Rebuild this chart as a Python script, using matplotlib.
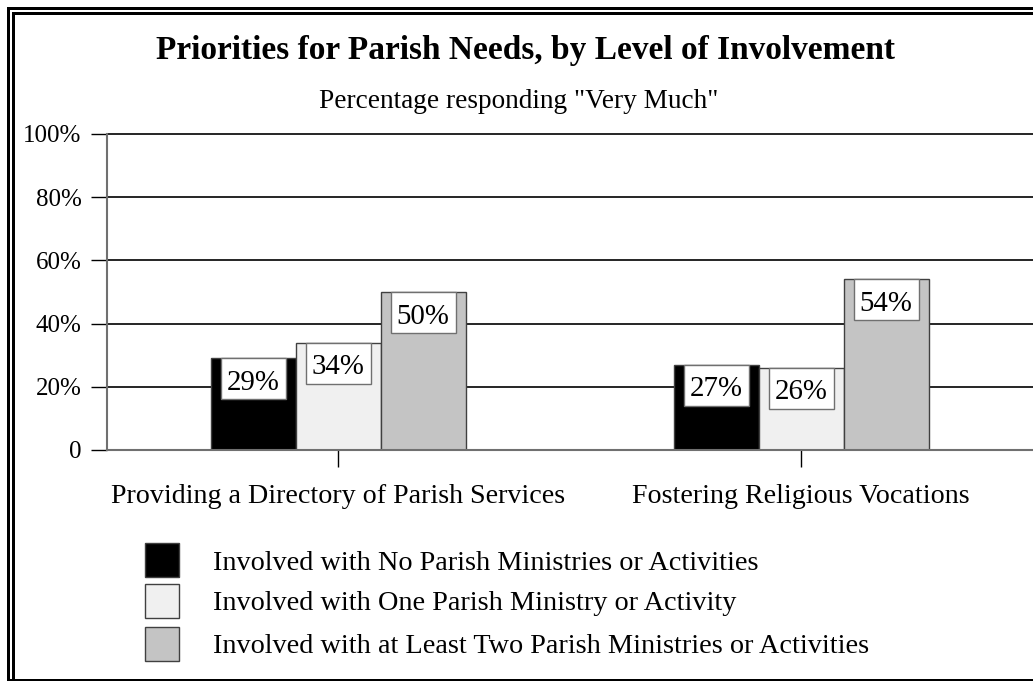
import matplotlib
matplotlib.use("Agg")
import matplotlib.pyplot as plt
from matplotlib.patches import Rectangle
from matplotlib.lines import Line2D
import numpy as np

categories = ["Providing a Directory of Parish Services", "Fostering Religious Vocations"]
series_names = [
    "Involved with No Parish Ministries or Activities",
    "Involved with One Parish Ministry or Activity",
    "Involved with at Least Two Parish Ministries or Activities",
]
no_ministry = [29, 27]
one_ministry = [34, 26]
two_plus = [50, 54]
ytick_vals = [0, 20, 40, 60, 80, 100]
ytick_labels = ["0", "20%", "40%", "60%", "80%", "100%"]

colors = ["#000000", "#f0f0f0", "#c4c4c4"]
edge = "#404040"

plt.rcParams['font.family'] = ['Liberation Serif', 'DejaVu Serif']

W, H = 1033, 681
fig = plt.figure(figsize=(W / 100, H / 100), dpi=100)

def fx(px):
    return px / W

def fy(py):
    return 1 - py / H

ax = fig.add_axes([fx(106.5), fy(450), fx(1032.5) - fx(106.5), fy(134) - fy(450)])

series = [no_ministry, one_ministry, two_plus]
x = np.arange(len(categories))
bw = 85 / 463
box_w = 65 / 463
box_h = 41 / 3.16
for i, vals in enumerate(series):
    xs = x + (i - 1) * bw
    ax.bar(xs, vals, width=bw, color=colors[i], edgecolor=edge, linewidth=1, zorder=3)
    for xi, v in zip(xs, vals):
        ax.add_patch(Rectangle((xi - box_w / 2, v - box_h), box_w, box_h,
                               facecolor="white", edgecolor="#707070", linewidth=1, zorder=4))
        ax.text(xi, v - box_h / 2 - 1.3, f"{v}%", ha="center", va="center",
                fontsize=20.8, color="black", zorder=5)

ax.set_xlim(-0.5, 1.5)
ax.set_ylim(0, 100)
ax.set_yticks(ytick_vals)
ax.set_yticklabels(ytick_labels, fontsize=18)
ax.set_xticks(x)
ax.set_xticklabels(categories, fontsize=20.2)
ax.tick_params(axis='y', length=11.5, width=1, color='black', pad=6.5)
ax.tick_params(axis='x', length=12, width=1, color='black', pad=12.5)
for v in ytick_vals[1:]:
    ax.axhline(v, color='black', linewidth=1.2, zorder=1, clip_on=False)
for s in ['top', 'right']:
    ax.spines[s].set_visible(False)
ax.spines['left'].set_color('#707070')
ax.spines['bottom'].set_color('#707070')
ax.spines['left'].set_linewidth(1.5)
ax.spines['bottom'].set_linewidth(1.5)
ax.spines['bottom'].set_zorder(6)

fig.text(fx(525), fy(50), "Priorities for Parish Needs, by Level of Involvement",
         ha="center", va="center", fontsize=24, fontweight="bold")
fig.text(fx(518.5), fy(101.5), 'Percentage responding "Very Much"',
         ha="center", va="center", fontsize=19.6)

# legend
row_y = [560, 601, 643.5]
for i, name in enumerate(series_names):
    fig.add_artist(Rectangle((fx(145), fy(row_y[i] + 17)), fx(34), 34 / H,
                             facecolor=colors[i], edgecolor=edge, linewidth=1,
                             transform=fig.transFigure))
    fig.text(fx(213), fy(row_y[i] + 3), name, ha="left", va="center", fontsize=20.3)

# frame
lw3 = 3 * 72 / 100
for xp in [7.5, 12.5]:
    fig.add_artist(Line2D([fx(xp), fx(xp)], [fy(xp), fy(680)], color='black', linewidth=lw3,
                          transform=fig.transFigure))
    fig.add_artist(Line2D([fx(xp), 1], [fy(xp), fy(xp)], color='black', linewidth=lw3,
                          transform=fig.transFigure))
fig.add_artist(Line2D([fx(7.5), 1], [fy(679.5), fy(679.5)], color='black', linewidth=lw3,
                      transform=fig.transFigure))

fig.savefig("out.png", dpi=100)
